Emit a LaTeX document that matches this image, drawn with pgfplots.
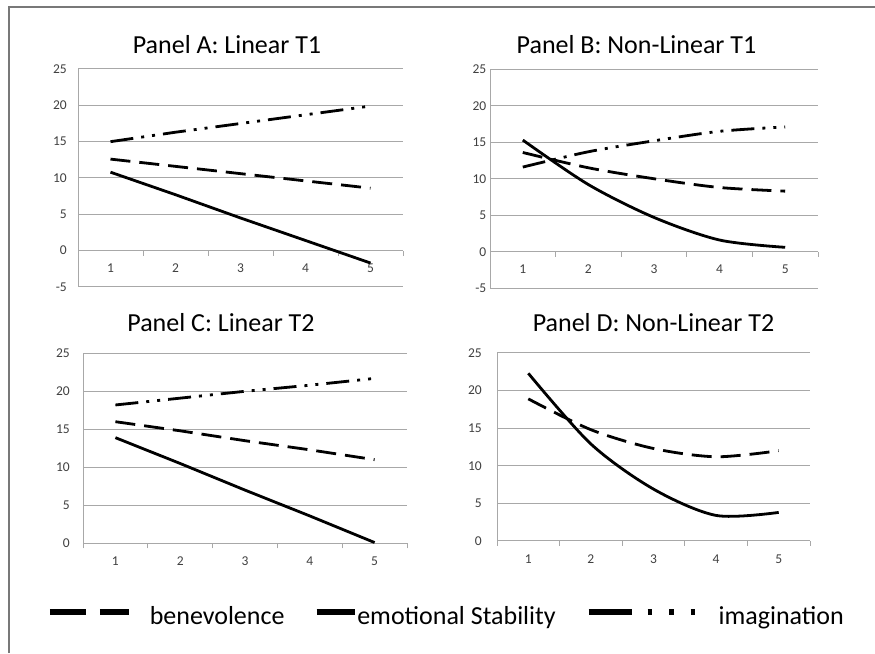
\documentclass[border=0pt]{standalone}
\usepackage{pgfplots}
\pgfplotsset{compat=1.18}
\usepackage{fontspec}
\setmainfont{Carlito}
\definecolor{gridc}{RGB}{168,168,168}
\definecolor{tickc}{RGB}{64,64,64}
\definecolor{borderc}{RGB}{120,120,120}

\pgfplotsset{
  panel/.style={
    scale only axis, anchor=south west,
    xmin=0.5, xmax=5.5,
    axis x line*=middle, axis y line*=left,
    axis line style={-, draw=gridc, line width=1pt},
    hide obscured x ticks=false, hide obscured y ticks=false,
    xtick={1,2,3,4,5}, xticklabels={1,2,3,4,5},
    minor xtick={0.5,1.5,2.5,3.5,4.5,5.5},
    major tick length=0pt, minor tick length=5pt, tick align=outside,
    tick style={draw=gridc, line width=1pt},
    ymajorgrids, grid style={draw=gridc, line width=1pt},
    tick label style={font=\fontsize{13.5}{15}\selectfont, text=tickc},
    xticklabel style={anchor=north, inner sep=0pt, text height=9pt, text depth=0pt, yshift=-13pt},
    yticklabel style={anchor=east, inner sep=0pt},
    clip=false,
  },
  bene/.style={black, line width=2.8pt, dash pattern=on 20pt off 9pt},
  emo/.style={black, line width=2.8pt},
  imag/.style={black, line width=2.8pt, dash pattern=on 23pt off 8pt on 3pt off 8pt on 3pt off 8pt},
}

\begin{document}
\begin{tikzpicture}
\useasboundingbox (0,0) rectangle (875pt,653pt);
\fill[white] (0,0) rectangle (875pt,653pt);

% Panel A
\begin{axis}[panel, at={(78pt,366pt)}, width=325pt, height=218pt,
  ymin=-5, ymax=25, ytick={-5,0,5,10,15,20,25},
  yticklabels={-5,0,5,10,15,20,25}, yticklabel style={xshift=-11pt}]
\addplot[imag] coordinates {(1,15.0) (2,16.3) (3,17.5) (4,18.7) (5,19.9)};
\addplot[bene] coordinates {(1,12.6) (2,11.6) (3,10.6) (4,9.6) (5,8.6)};
\addplot[emo] coordinates {(1,10.8) (2,7.7) (3,4.5) (4,1.4) (5,-1.7)};
\end{axis}

% Panel B
\begin{axis}[panel, at={(490pt,364.8pt)}, width=328pt, height=218.9pt,
  ymin=-5, ymax=25, ytick={-5,0,5,10,15,20,25},
  yticklabels={-5,0,5,10,15,20,25}, yticklabel style={xshift=-3.5pt}]
\addplot[imag, smooth] coordinates {(1,11.6) (2,13.7) (3,15.2) (4,16.5) (5,17.1)};
\addplot[bene, smooth] coordinates {(1,13.6) (2,11.5) (3,10.0) (4,8.8) (5,8.3)};
\addplot[emo, smooth] coordinates {(1,15.3) (2,9.2) (3,4.7) (4,1.6) (5,0.6)};
\end{axis}

% Panel C
\begin{axis}[panel, at={(83pt,109.7pt)}, width=324pt, height=190pt,
  ymin=0, ymax=25, ytick={0,5,10,15,20,25},
  yticklabels={0,5,10,15,20,25}, yticklabel style={xshift=-13pt},
  legend columns=3,
  legend style={at={(axis description cs:-0.1111,-0.3616)}, anchor=west,
    draw=none, fill=none, inner sep=0pt, outer sep=0pt,
    column sep=0pt, row sep=0pt,
    nodes={inner sep=0pt, outer sep=0pt, text height=24pt, text depth=0pt,
      font=\fontsize{26}{30}\selectfont, text=black},
    cells={anchor=base west}}]
\addlegendimage{legend image code/.code={
  \draw[black, line width=5.5pt, dash pattern=on 36pt off 14pt] (0pt,12pt) -- (79pt,12pt);
  \path[draw=none, fill=none] (0pt,12pt) -- (100pt,12pt);}}
\addlegendentry{benevolence}
\addlegendimage{legend image code/.code={
  \draw[black, line width=5.5pt] (32pt,12pt) -- (70pt,12pt);
  \path[draw=none, fill=none] (0pt,12pt) -- (72pt,12pt);}}
\addlegendentry{emotional Stability}
\addlegendimage{legend image code/.code={
  \draw[black, line width=5.5pt, dash pattern=on 43pt off 16pt on 4.5pt off 17pt on 4.5pt off 17pt] (33pt,12pt) -- (139pt,12pt);
  \path[draw=none, fill=none] (0pt,12pt) -- (163pt,12pt);}}
\addlegendentry{imagination}
\addplot[imag, forget plot] coordinates {(1,18.2) (2,19.1) (3,20.0) (4,20.8) (5,21.7)};
\addplot[bene, forget plot] coordinates {(1,16.0) (2,14.8) (3,13.5) (4,12.3) (5,11.0)};
\addplot[emo, forget plot] coordinates {(1,13.9) (2,10.5) (3,7.0) (4,3.6) (5,0.1)};
\end{axis}

% Panel D
\begin{axis}[panel, at={(497pt,112pt)}, width=313pt, height=188pt,
  ymin=0, ymax=25, ytick={0,5,10,15,20,25},
  yticklabels={0,5,10,15,20,25}, yticklabel style={xshift=-15pt}]
\addplot[bene, smooth] coordinates {(1,18.9) (2,14.8) (3,12.3) (4,11.2) (5,12.0)};
\addplot[emo, smooth] coordinates {(1,22.3) (2,12.9) (3,6.9) (4,3.4) (5,3.8)};
\end{axis}

% Titles
\node[anchor=base, font=\fontsize{26}{30}\selectfont] at (227pt,599pt) {Panel A: Linear T1};
\node[anchor=base, font=\fontsize{26}{30}\selectfont] at (636.5pt,599pt) {Panel B: Non-Linear T1};
\node[anchor=base, font=\fontsize{26}{30}\selectfont] at (221pt,321.3pt) {Panel C: Linear T2};
\node[anchor=base, font=\fontsize{26}{30}\selectfont] at (653.5pt,321.3pt) {Panel D: Non-Linear T2};

% frame
\draw[borderc, line width=1.5pt] (9pt,0pt) -- (9pt,646pt) -- (875pt,646pt);
\end{tikzpicture}
\end{document}
